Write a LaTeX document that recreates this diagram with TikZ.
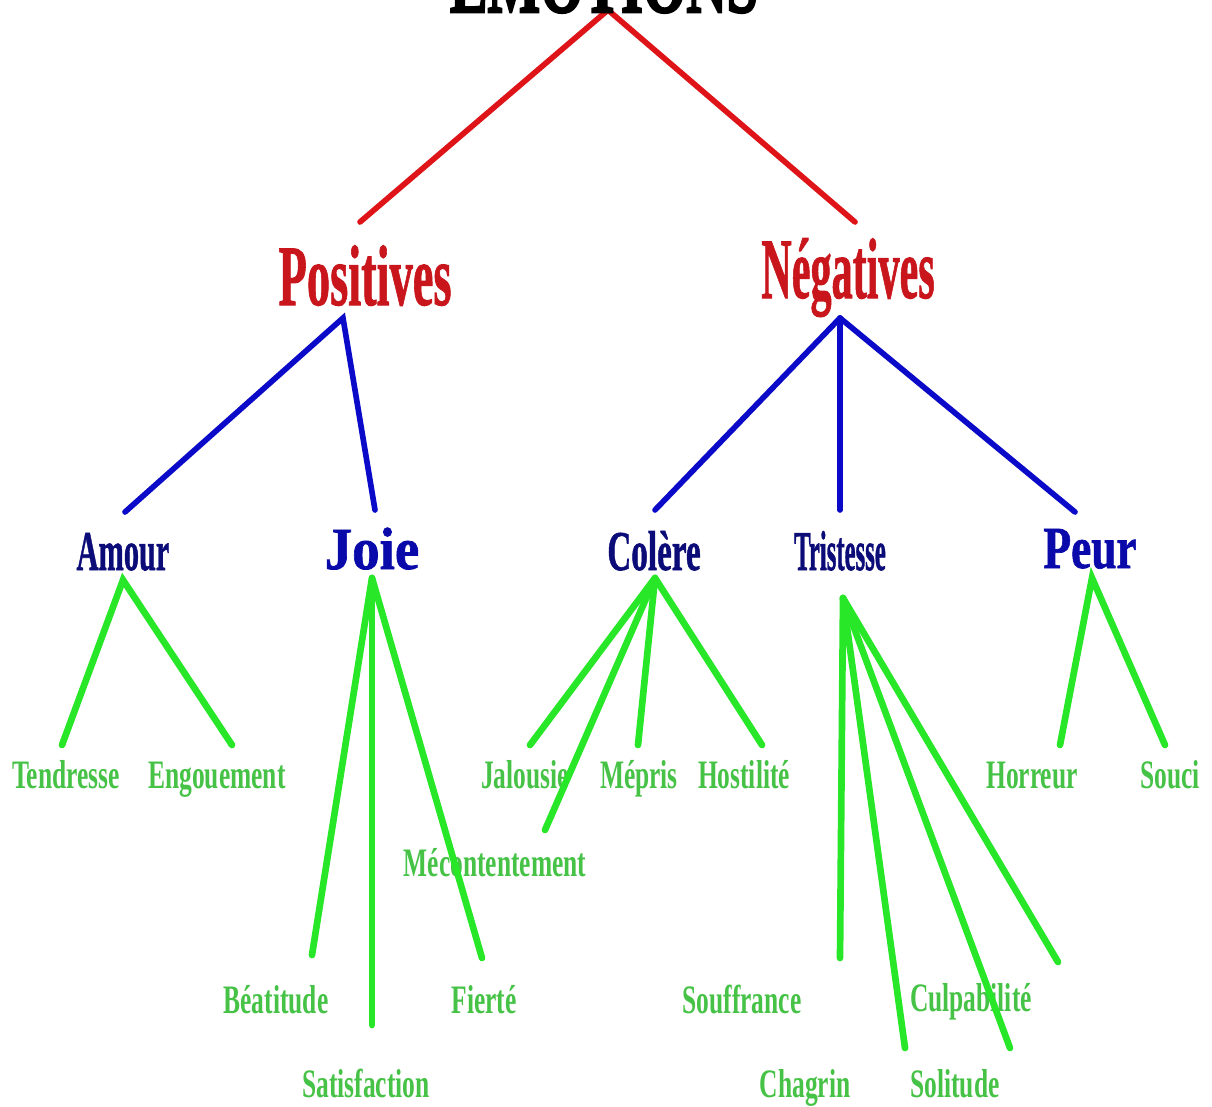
\documentclass[tikz,border=0pt]{standalone}
\usepackage{fontspec}
\setmainfont{Liberation Serif}
\newfontfamily\gfont{Liberation Serif}[FakeStretch=0.63]
\newfontfamily\hfont{Liberation Serif}[FakeBold=1.2]
\newfontfamily\tfont{Liberation Serif}[FakeBold=3]
\newcommand\hsc[2]{\scalebox{#1}[1]{#2}}
\definecolor{cRedL}{RGB}{222,20,24}
\definecolor{cRedT}{RGB}{200,22,28}
\definecolor{cBlueL}{RGB}{10,10,200}
\definecolor{cNavy}{RGB}{12,12,120}
\definecolor{cBlueT}{RGB}{10,10,170}
\definecolor{cGreenL}{RGB}{40,230,40}
\definecolor{cGreenT}{RGB}{70,195,70}
\tikzset{
  lvT/.style={text=black, font=\tfont\bfseries\fontsize{49pt}{49pt}\selectfont, inner sep=0pt, anchor=base},
  lvA/.style={text=cRedT, font=\hfont\bfseries\fontsize{49pt}{49pt}\selectfont, inner sep=0pt, anchor=base},
  lvB/.style={text=cNavy, font=\hfont\bfseries\fontsize{32pt}{32pt}\selectfont, inner sep=0pt, anchor=base},
  lvBb/.style={text=cBlueT, font=\hfont\bfseries\fontsize{34pt}{34pt}\selectfont, inner sep=0pt, anchor=base},
  lvC/.style={text=cGreenT, font=\gfont\bfseries\fontsize{23pt}{23pt}\selectfont, inner sep=0pt, anchor=base},
  edgeA/.style={draw=cRedL, line width=3.2pt, line cap=round},
  edgeB/.style={draw=cBlueL, line width=3.2pt, line cap=round},
  edgeC/.style={draw=cGreenL, line width=3.8pt, line cap=round},
}
\begin{document}
\begin{tikzpicture}[x=0.02cm, y=-0.02cm]
\useasboundingbox[fill=white] (0,0) rectangle (1212,1106);
\clip (0,0) rectangle (1212,1106);
% coordinates of connector ends
\coordinate (rT) at (608,10);
\coordinate (rL) at (360,222);
\coordinate (rR) at (855,222);
\coordinate (pB) at (343,318);
\coordinate (nB) at (840,318);
\coordinate (amT) at (125,512);
\coordinate (joT) at (375,510);
\coordinate (coT) at (655,510);
\coordinate (trT) at (840,510);
\coordinate (peT) at (1075,512);
\coordinate (amB) at (123,580);
\coordinate (joB) at (372,578);
\coordinate (coB) at (655,578);
\coordinate (trB) at (843,598);
\coordinate (peB) at (1092,578);
\coordinate (teE) at (62,745);
\coordinate (enE) at (232,745);
\coordinate (beE) at (312,955);
\coordinate (saE) at (372,1025);
\coordinate (fiE) at (482,958);
\coordinate (jaE) at (530,745);
\coordinate (meE) at (545,830);
\coordinate (mpE) at (638,745);
\coordinate (hoE) at (762,745);
\coordinate (soE) at (840,958);
\coordinate (chE) at (905,1048);
\coordinate (slE) at (1010,1048);
\coordinate (cuE) at (1058,962);
\coordinate (hrE) at (1060,745);
\coordinate (scE) at (1165,745);
% connectors
\draw[edgeA] (rL) -- (rT) -- (rR);
\draw[edgeB] (amT) -- (pB) -- (joT);
\draw[edgeB] (coT) -- (nB);
\draw[edgeB] (trT) -- (nB);
\draw[edgeB] (peT) -- (nB);
\draw[edgeC] (teE) -- (amB) -- (enE);
\draw[edgeC] (joB) -- (beE);
\draw[edgeC] (joB) -- (saE);
\draw[edgeC] (coB) -- (mpE);
\draw[edgeC] (coB) -- (hoE);
\draw[edgeC] (trB) -- (soE);
\draw[edgeC] (trB) -- (chE);
\draw[edgeC] (trB) -- (cuE);
\draw[edgeC] (hrE) -- (peB) -- (scE);
% labels
\node[lvT] (emo) at (604,12) {\hsc{0.65}{EMOTIONS}};
\node[lvA] (pos) at (365,305) {\hsc{0.54}{Positives}};
\node[lvA] (neg) at (848,298) {\hsc{0.49}{Négatives}};
\node[lvB] (amour) at (123,570) {\hsc{0.54}{Amour}};
\node[lvBb] (joie) at (372,569) {\hsc{0.92}{Joie}};
\node[lvB] (colere) at (654,570) {\hsc{0.59}{Colère}};
\node[lvB] (tristesse) at (840,570) {\hsc{0.44}{Tristesse}};
\node[lvBb] (peur) at (1090,568) {\hsc{0.76}{Peur}};
\node[lvC] (tendresse) at (66,788) {Tendresse};
\node[lvC] (engouement) at (217,788) {Engouement};
\node[lvC] (jalousie) at (525,788) {Jalousie};
\node[lvC] (mepris) at (639,788) {Mépris};
\node[lvC] (hostilite) at (744,788) {Hostilité};
\node[lvC] (mecontentement) at (495,876) {Mécontentement};
\node[lvC] (horreur) at (1032,788) {Horreur};
\node[lvC] (souci) at (1170,788) {Souci};
\node[lvC] (beatitude) at (276,1013) {Béatitude};
\node[lvC] (fierte) at (484,1013) {Fierté};
\node[lvC] (souffrance) at (742,1013) {Souffrance};
\node[lvC] (culpabilite) at (971,1011) {Culpabilité};
\node[lvC] (satisfaction) at (366,1097) {Satisfaction};
\node[lvC] (chagrin) at (805,1097) {Chagrin};
\node[lvC] (solitude) at (955,1097) {Solitude};
% connectors that run over some labels, as in the picture
\draw[edgeC] (coB) -- (meE);
\draw[edgeC] (joB) -- (fiE);
\draw[edgeC] (trB) -- (slE);
\draw[edgeC] (coB) -- (jaE);
\end{tikzpicture}
\end{document}
